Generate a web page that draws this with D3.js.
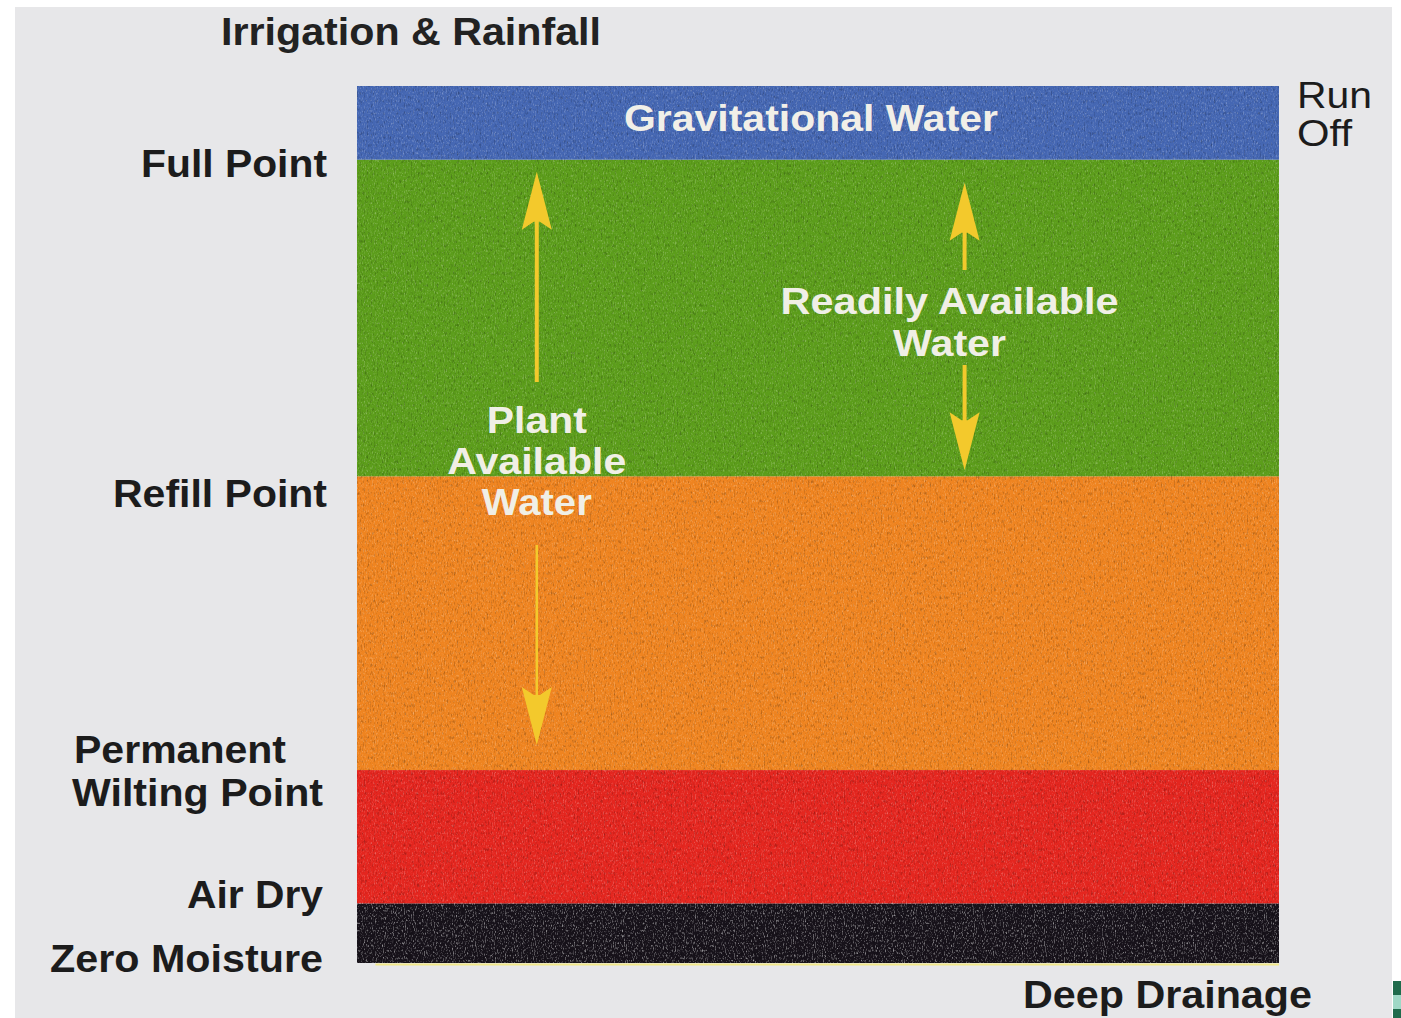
<!DOCTYPE html>
<html>
<head>
<meta charset="utf-8">
<script src="https://cdn.jsdelivr.net/npm/d3@7"></script>
<style>
  html, body { margin: 0; padding: 0; background: #ffffff; }
  svg { display: block; }
  text { font-family: "Liberation Sans", Arial, sans-serif; font-weight: bold; }
</style>
</head>
<body>
<script>
// soil water levels, % of saturation
var levelNames = ["Zero Moisture", "Air Dry", "Permanent Wilting Point", "Refill Point", "Full Point", "Saturation"];
var levelValues = [0, 6.8, 22.0, 55.5, 91.6, 100];

// bands between consecutive levels (bottom to top)
var bandNames = ["Oven dry", "Unavailable", "Stressed", "Readily Available Water", "Gravitational Water"];
var bandColors = ["#17121a", "#e4261f", "#ef8420", "#5c9d1b", "#4567b3"];

// left side labels and the level each sits on
var leftLabels = [["Full Point"], ["Refill Point"], ["Permanent", "Wilting Point"], ["Air Dry"], ["Zero Moisture"]];
var leftLabelLevels = [91.6, 55.5, 22.0, 6.8, 0];

// arrows: [from level, to level]
var arrowRanges = [[91.6, 22.0], [91.6, 55.5]];
var arrowTexts = [["Plant", "Available", "Water"], ["Readily Available", "Water"]];

var width = 1401, height = 1018;

var svg = d3.select("body").append("svg")
    .attr("width", width)
    .attr("height", height);

var defs = svg.append("defs");

// grain to mimic the printed texture
var light = defs.append("filter").attr("id", "grainLight")
    .attr("x", 0).attr("y", 0).attr("width", 1).attr("height", 1);
light.append("feTurbulence")
    .attr("type", "fractalNoise")
    .attr("baseFrequency", "0.9 0.4")
    .attr("numOctaves", 2)
    .attr("seed", 4);
light.append("feColorMatrix")
    .attr("type", "matrix")
    .attr("values", "0 0 0 0 1  0 0 0 0 1  0 0 0 0 1  2.2 0 0 0 -1.15");

var dark = defs.append("filter").attr("id", "grainDark")
    .attr("x", 0).attr("y", 0).attr("width", 1).attr("height", 1);
dark.append("feTurbulence")
    .attr("type", "fractalNoise")
    .attr("baseFrequency", "0.7 0.25")
    .attr("numOctaves", 2)
    .attr("seed", 11);
dark.append("feColorMatrix")
    .attr("type", "matrix")
    .attr("values", "0 0 0 0 0  0 0 0 0 0  0 0 0 0 0  2.4 0 0 0 -1.3");

// grey card
svg.append("rect")
    .attr("x", 15).attr("y", 7)
    .attr("width", 1377).attr("height", 1011)
    .attr("fill", "#e7e7e9");

// little cropped logo in the corner
svg.append("rect")
    .attr("x", 1393).attr("y", 981)
    .attr("width", 8).attr("height", 37)
    .attr("fill", "#1f6b4c");
svg.append("rect")
    .attr("x", 1393).attr("y", 995)
    .attr("width", 8).attr("height", 14)
    .attr("fill", "#9fd8c6");

var x = d3.scaleLinear().domain([0, 1]).range([357, 1279]);
var y = d3.scaleLinear().domain([0, 100]).range([963, 86]);

var bands = bandNames.map(function (name, i) {
    return { name: name, lo: levelValues[i], hi: levelValues[i + 1], color: bandColors[i] };
});

var profile = svg.append("g").attr("class", "profile");

profile.selectAll("rect.band")
    .data(bands)
    .enter().append("rect")
    .attr("class", "band")
    .attr("x", x(0))
    .attr("width", x(1) - x(0))
    .attr("y", function (d) { return y(d.hi); })
    .attr("height", function (d) { return y(d.lo) - y(d.hi); })
    .attr("fill", function (d) { return d.color; });

profile.append("rect")
    .attr("x", x(0)).attr("width", x(1) - x(0))
    .attr("y", y(100)).attr("height", y(0) - y(100))
    .attr("fill", "#fff")
    .attr("opacity", 0.35)
    .attr("filter", "url(#grainLight)");

profile.append("rect")
    .attr("x", x(0)).attr("width", x(1) - x(0))
    .attr("y", y(100)).attr("height", y(0) - y(100))
    .attr("fill", "#000")
    .attr("opacity", 0.3)
    .attr("filter", "url(#grainDark)");

// extra speckle on the dry band
profile.append("rect")
    .attr("x", x(0)).attr("width", x(1) - x(0))
    .attr("y", y(levelValues[1])).attr("height", y(0) - y(levelValues[1]))
    .attr("fill", "#8a88a0")
    .attr("opacity", 0.45)
    .attr("filter", "url(#grainLight)");

// faint yellow rim under the black band
profile.append("line")
    .attr("x1", x(0.02)).attr("x2", x(1))
    .attr("y1", y(0) + 1.5).attr("y2", y(0) + 1.5)
    .attr("stroke", "#f1e88a")
    .attr("stroke-width", 2);

// gravitational water label
profile.append("text")
    .attr("x", 811)
    .attr("y", 131)
    .attr("text-anchor", "middle")
    .attr("font-size", 37)
    .attr("textLength", 374)
    .attr("lengthAdjust", "spacingAndGlyphs")
    .attr("fill", "#f1efe8")
    .text(bandNames[4]);

// left labels
var nudge = [17, 31, 0, 5, 9];
var labelWidths = [[186], [214], [212, 251], [136], [273]];
var lineGap = 43;

leftLabels.forEach(function (lines, i) {
    var base = y(leftLabelLevels[i]) + nudge[i] - (lines.length - 1) * lineGap / 2;
    lines.forEach(function (t, j) {
        var right = j === 0 && lines.length > 1 ? 286 : (i < 2 ? 327 : 323);
        svg.append("text")
            .attr("x", right)
            .attr("y", base + j * lineGap + (lines.length > 1 ? 14 : 0))
            .attr("text-anchor", "end")
            .attr("font-size", 39)
            .attr("textLength", labelWidths[i][j])
            .attr("lengthAdjust", "spacingAndGlyphs")
            .attr("fill", "#1c1c1c")
            .text(t);
    });
});

// top and right annotations
svg.append("text")
    .attr("x", 221).attr("y", 45)
    .attr("font-size", 39)
    .attr("textLength", 380)
    .attr("lengthAdjust", "spacingAndGlyphs")
    .attr("fill", "#222")
    .text("Irrigation & Rainfall");

svg.append("text")
    .attr("x", 1297).attr("y", 108)
    .attr("font-size", 37)
    .style("font-weight", "normal")
    .attr("textLength", 75)
    .attr("lengthAdjust", "spacingAndGlyphs")
    .attr("fill", "#1c1c1c")
    .text("Run");
svg.append("text")
    .attr("x", 1297).attr("y", 146)
    .attr("font-size", 37)
    .style("font-weight", "normal")
    .attr("textLength", 55)
    .attr("lengthAdjust", "spacingAndGlyphs")
    .attr("fill", "#1c1c1c")
    .text("Off");

svg.append("text")
    .attr("x", 1023).attr("y", 1008)
    .attr("font-size", 39)
    .attr("textLength", 289)
    .attr("lengthAdjust", "spacingAndGlyphs")
    .attr("fill", "#1c1c1c")
    .text("Deep Drainage");

// arrows
var arrowCols = [0.195, 0.659];
var arrowInset = [[12, 25], [23, 6]];
var arrowGap = [[382, 545], [270, 365]];
var arrowColor = "#f3c92c";

function arrowHead(g, cx, tipY, dir) {
    var h = 58, w = 15;
    g.append("path")
        .attr("d", "M" + cx + "," + tipY +
            "L" + (cx - w) + "," + (tipY + dir * h) +
            "L" + (cx - 3) + "," + (tipY + dir * (h - 8)) +
            "L" + (cx + 3) + "," + (tipY + dir * (h - 8)) +
            "L" + (cx + w) + "," + (tipY + dir * h) + "Z")
        .attr("fill", arrowColor);
}

arrowRanges.forEach(function (r, i) {
    var g = profile.append("g").attr("class", "arrow");
    var cx = x(arrowCols[i]);
    var top = y(r[0]) + arrowInset[i][0];
    var bottom = y(r[1]) - arrowInset[i][1];
    g.append("line")
        .attr("x1", cx).attr("x2", cx)
        .attr("y1", top + 20).attr("y2", arrowGap[i][0])
        .attr("stroke", arrowColor).attr("stroke-width", 4);
    g.append("line")
        .attr("x1", cx).attr("x2", cx)
        .attr("y1", arrowGap[i][1]).attr("y2", bottom - 20)
        .attr("stroke", arrowColor).attr("stroke-width", i === 0 ? 2.5 : 4);
    arrowHead(g, cx, top, 1);
    arrowHead(g, cx, bottom, -1);
});

// arrow captions
var captionBase = [433, 314];
var captionGap = [41, 42];
var captionWidths = [[100, 179, 110], [338, 113]];

arrowTexts.forEach(function (lines, i) {
    var cx = x(arrowCols[i]) + (i === 0 ? 0 : -15);
    lines.forEach(function (t, j) {
        profile.append("text")
            .attr("x", cx)
            .attr("y", captionBase[i] + j * captionGap[i])
            .attr("text-anchor", "middle")
            .attr("font-size", 36)
            .attr("textLength", captionWidths[i][j])
            .attr("lengthAdjust", "spacingAndGlyphs")
            .attr("fill", "#f0efe6")
            .text(t);
    });
});
</script>
</body>
</html>
